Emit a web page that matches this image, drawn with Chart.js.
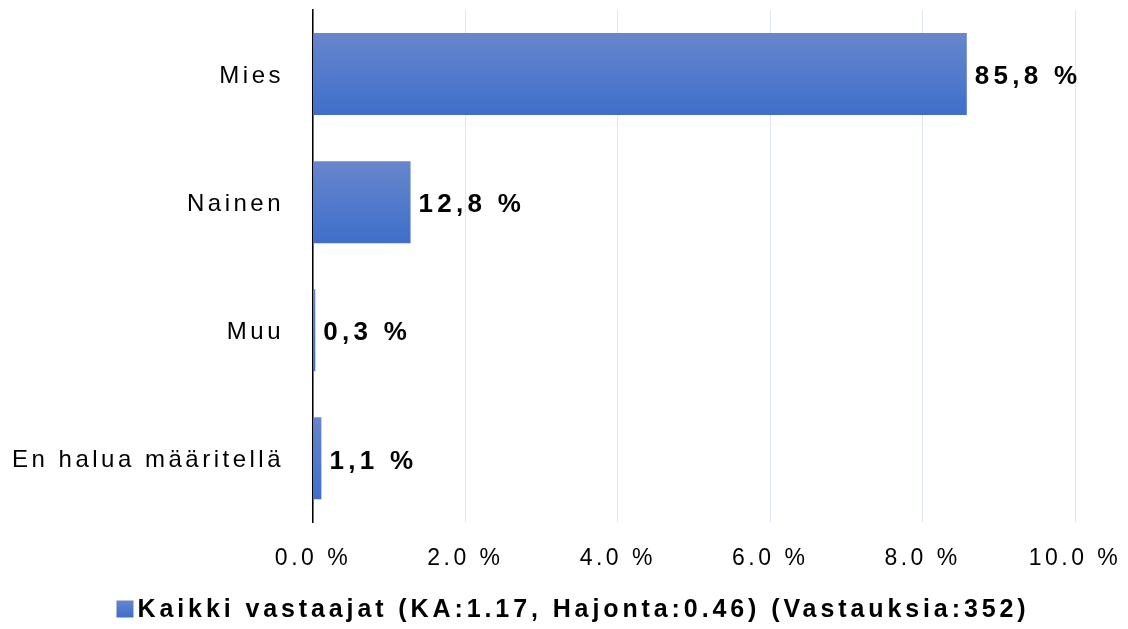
<!DOCTYPE html>
<html>
<head>
<meta charset="utf-8">
<script src="https://cdn.jsdelivr.net/npm/chart.js@4.4.0/dist/chart.umd.min.js"></script>
<style>
  html, body { margin: 0; padding: 0; background: #fff; }
  #wrap { width: 1128px; height: 629px; }
</style>
</head>
<body>
<div id="wrap"><canvas id="myChart" width="1128" height="629"></canvas></div>
<script>
// DATA
var categories = ["Mies", "Nainen", "Muu", "En halua määritellä"];
var percents = [85.8, 12.8, 0.3, 1.1];
var tickLabels = ["0.0 %", "2.0 %", "4.0 %", "6.0 %", "8.0 %", "10.0 %"];
var seriesName = "Kaikki vastaajat (KA:1.17, Hajonta:0.46) (Vastauksia:352)";

var FONT = "'Liberation Sans', Arial, sans-serif";
var BAR_TOP = '#6786cc';
var BAR_BOTTOM = '#3e6fcb';

// letter spacing for the axis texts
var spacingPlugin = {
  id: 'spacing',
  beforeUpdate: function(chart) { chart.ctx.letterSpacing = '3.5px'; },
  beforeDraw: function(chart) { chart.ctx.letterSpacing = '3.5px'; }
};

// value labels at the bar ends + legend below
var extras = {
  id: 'extras',
  afterDatasetsDraw: function(chart) {
    var ctx = chart.ctx;
    var meta = chart.getDatasetMeta(0);
    ctx.save();
    ctx.letterSpacing = '4.3px';
    ctx.font = 'bold 26px ' + FONT;
    ctx.fillStyle = '#000';
    ctx.textAlign = 'left';
    ctx.textBaseline = 'middle';
    meta.data.forEach(function(bar, i) {
      var txt = percents[i].toFixed(1).replace('.', ',') + ' %';
      ctx.fillText(txt, bar.x + 8, bar.y + 3);
    });
    ctx.restore();
  },
  afterDraw: function(chart) {
    var ctx = chart.ctx;
    ctx.save();
    ctx.letterSpacing = '3.9px';
    ctx.font = 'bold 25px ' + FONT;
    var w = ctx.measureText(seriesName).width;
    var box = 17, gap = 4;
    var x0 = (chart.width - (box + gap + w)) / 2 + 9;
    var y = 609;
    var g = ctx.createLinearGradient(0, y - box / 2, 0, y + box / 2);
    g.addColorStop(0, BAR_TOP);
    g.addColorStop(1, BAR_BOTTOM);
    ctx.fillStyle = g;
    ctx.fillRect(x0, y - box / 2, box, box);
    ctx.fillStyle = '#000';
    ctx.textAlign = 'left';
    ctx.textBaseline = 'middle';
    ctx.fillText(seriesName, x0 + box + gap, y + 1);
    ctx.restore();
  }
};

function barGradient(context) {
  var chart = context.chart;
  var y = chart.scales.y;
  if (!y || context.dataIndex === undefined) return BAR_BOTTOM;
  var c = y.getPixelForValue(context.dataIndex);
  var half = (y.height / categories.length) * 0.64 / 2;
  if (!isFinite(c) || !isFinite(half) || half <= 0) return BAR_BOTTOM;
  var g = chart.ctx.createLinearGradient(0, c - half, 0, c + half);
  g.addColorStop(0, BAR_TOP);
  g.addColorStop(1, BAR_BOTTOM);
  return g;
}

var ctx = document.getElementById('myChart').getContext('2d');
var myChart = new Chart(ctx, {
  type: 'bar',
  data: {
    labels: categories,
    datasets: [{
      label: seriesName,
      data: percents,
      backgroundColor: barGradient,
      borderWidth: 0,
      barPercentage: 0.8,
      categoryPercentage: 0.8
    }]
  },
  options: {
    indexAxis: 'y',
    responsive: false,
    animation: false,
    layout: { padding: { top: 10, right: 53, left: 0, bottom: 35 } },
    scales: {
      x: {
        min: 0,
        max: 100,
        ticks: {
          stepSize: 20,
          color: '#000',
          font: { family: FONT, size: 23 },
          padding: 22,
          callback: function(value, index) { return tickLabels[index]; }
        },
        grid: { color: '#dfe6f1', lineWidth: 1, drawTicks: false },
        border: { display: false },
        afterFit: function(scale) { scale.paddingLeft = 0; scale.paddingRight = 0; }
      },
      y: {
        ticks: {
          color: '#000',
          font: { family: FONT, size: 24 },
          padding: 21,
          labelOffset: 2
        },
        grid: { display: false },
        border: { display: true, color: '#000', width: 1.5 },
        afterFit: function(scale) {
          scale.width = 313;
          scale.paddingTop = 0;
          scale.paddingBottom = 0;
        }
      }
    },
    plugins: {
      legend: { display: false },
      tooltip: { enabled: false }
    }
  },
  plugins: [spacingPlugin, extras]
});
</script>
</body>
</html>
